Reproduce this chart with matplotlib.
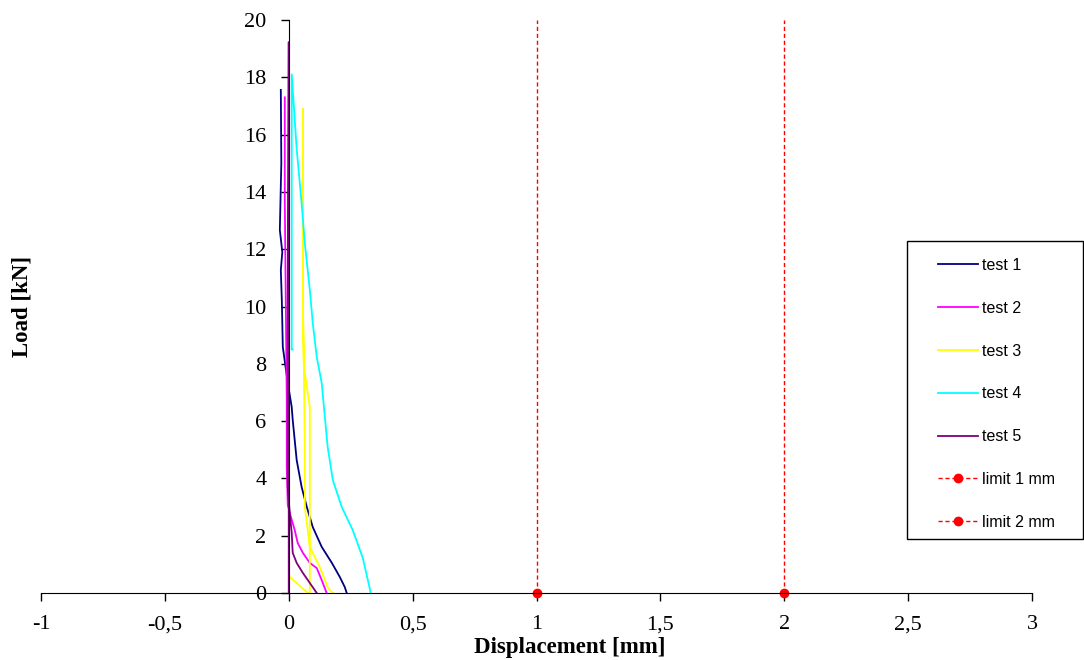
import matplotlib
matplotlib.use("Agg")
import matplotlib.pyplot as plt
from matplotlib.patches import Rectangle

# ---- data (displacement [mm], load [kN]) ----
t1_x = [0.234, 0.226, 0.206, 0.174, 0.133, 0.097, 0.073, 0.052, 0.032, 0.016, 0.012, -0.004, -0.024, -0.028, -0.032, -0.026, -0.036, -0.030, -0.032]
t1_y = [0.0, 0.21, 0.56, 1.05, 1.61, 2.30, 3.00, 3.70, 4.64, 6.04, 6.49, 7.33, 8.59, 10.23, 11.27, 11.9, 12.67, 15.0, 17.56]

t2_x = [0.153, 0.133, 0.113, 0.085, 0.057, 0.036, 0.024, 0.012, -0.004, -0.008, -0.008, -0.012, -0.016, -0.016]
t2_y = [0.0, 0.45, 0.87, 1.05, 1.40, 1.75, 2.20, 2.55, 3.07, 4.40, 6.70, 10.20, 13.70, 17.30]

t3_x = [0.180, 0.165, 0.157, 0.125, 0.085, 0.065, 0.065, 0.061, 0.057, 0.057, 0.057, 0.061, 0.085, 0.085, 0.077, 0.004]
t3_y = [0.0, 0.10, 0.21, 0.91, 1.61, 3.00, 5.00, 7.90, 10.20, 16.90, 10.0, 7.90, 6.50, 0.0, 0.0, 0.56]

t4_x = [0.331, 0.299, 0.258, 0.214, 0.178, 0.157, 0.133, 0.113, 0.097, 0.085, 0.065, 0.052, 0.032, 0.012, 0.012, 0.016]
t4_y = [0.0, 1.22, 2.20, 3.00, 3.94, 5.10, 7.33, 8.24, 9.42, 10.58, 12.20, 13.60, 15.50, 18.10, 8.50, 8.50]

t5_x = [0.113, 0.085, 0.057, 0.032, 0.016, 0.012, 0.004, -0.004, -0.004, 0.0, 0.0]
t5_y = [0.0, 0.35, 0.70, 1.05, 1.40, 2.09, 2.79, 3.70, 10.20, 19.23, 0.0]

limit1_x = [1, 1]
limit1_y = [0, 20]
limit2_x = [2, 2]
limit2_y = [0, 20]

x_ticks = [-1, -0.5, 0, 0.5, 1, 1.5, 2, 2.5, 3]
x_tick_labels = ["-1", "-0,5", "0", "0,5", "1", "1,5", "2", "2,5", "3"]
y_ticks = [0, 2, 4, 6, 8, 10, 12, 14, 16, 18, 20]
y_tick_labels = [str(v) for v in y_ticks]

series = [
    ("test 1", t1_x, t1_y, "#000080"),
    ("test 2", t2_x, t2_y, "#FF00FF"),
    ("test 3", t3_x, t3_y, "#FFFF00"),
    ("test 4", t4_x, t4_y, "#00FFFF"),
    ("test 5", t5_x, t5_y, "#800080"),
]

W, H = 1084, 660
fig = plt.figure(figsize=(W / 100, H / 100), dpi=100)
ax = fig.add_axes([41 / W, 1 - 593 / H, (1032 - 41) / W, (593 - 20) / H])

for label, xs, ys, col in series:
    ax.plot(xs, ys, color=col, lw=1.3, label=label)

ax.plot(limit1_x, limit1_y, color="red", ls=(0, (3, 2)), lw=1.0, marker="o",
        markersize=6, markevery=[0], label="limit 1 mm", clip_on=False)
ax.plot(limit2_x, limit2_y, color="red", ls=(0, (3, 2)), lw=1.0, marker="o",
        markersize=6, markevery=[0], label="limit 2 mm", clip_on=False)

ax.set_xlim(-1, 3)
ax.set_ylim(0, 20)
ax.spines["left"].set_position(("data", 0))
ax.spines["top"].set_visible(False)
ax.spines["right"].set_visible(False)
ax.set_xticks(x_ticks)
ax.set_xticklabels(x_tick_labels)
ax.set_yticks(y_ticks)
ax.set_yticklabels(y_tick_labels)
for lab in ax.get_xticklabels() + ax.get_yticklabels():
    lab.set_fontfamily("Liberation Serif")
    lab.set_fontsize(16)
ax.tick_params(axis="both", direction="out", length=6, width=1, pad=10)
ax.patch.set_visible(False)

fig.text(569.5 / W, 1 - 647 / H, "Displacement [mm]", family="Liberation Serif",
         weight="bold", fontsize=16.5, ha="center", va="center")
fig.text(22 / W, 1 - 306 / H, "Load [kN]", family="Liberation Serif",
         weight="bold", fontsize=16.5, ha="center", va="center", rotation=90)

# legend
leg = ax.legend(loc="upper left", bbox_to_anchor=(922 / W, 1 - 242 / H),
                bbox_transform=fig.transFigure, frameon=False, numpoints=1,
                prop={"family": "Liberation Sans", "size": 11.5},
                handlelength=2.5, handletextpad=0.25, labelspacing=1.74,
                borderpad=0.5)
fig.patches.append(Rectangle((907 / W, 1 - 539 / H), (1083 - 907) / W, (539 - 241) / H,
                             transform=fig.transFigure, fill=False,
                             edgecolor="black", lw=1.0))

fig.savefig("out.png", dpi=100)
